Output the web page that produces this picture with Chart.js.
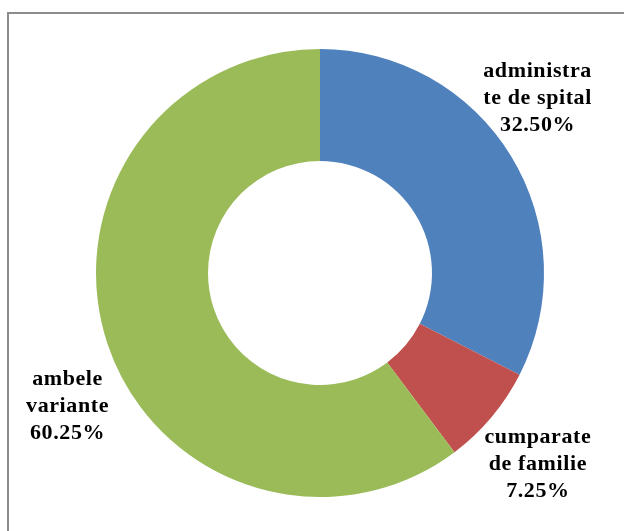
<!DOCTYPE html>
<html>
<head>
<meta charset="utf-8">
<script src="https://cdn.jsdelivr.net/npm/chart.js@4/dist/chart.umd.min.js"></script>
<style>
  html, body { margin: 0; padding: 0; background: #fff; }
  #wrap { position: relative; width: 624px; height: 531px; overflow: hidden; }
  #frame { position: absolute; left: 7px; top: 12px; width: 700px; height: 600px;
           border: 2px solid #8c8c8c; box-sizing: border-box; }
  #box { position: absolute; left: 0; top: 0; width: 624px; height: 531px; }
</style>
</head>
<body>
<div id="wrap">
  <div id="frame"></div>
  <div id="box"><canvas id="chart"></canvas></div>
</div>
<script>
// data
var categories = ['administra|te de spital', 'cumparate|de familie', 'ambele|variante'];
var shares = [32.50, 7.25, 60.25];
var sliceColors = ['#4F81BD', '#C0504D', '#9BBB59'];

// label placement: angle nudge (deg) from slice middle and distance as factor of outer radius
var labelAngleNudge = [-7.5, 1, -9];
var labelDistance = [1.25, 1.29, 1.27];

var outsideLabels = {
    id: 'outsideLabels',
    afterDatasetsDraw: function(chart){
        var ctx = chart.ctx;
        var meta = chart.getDatasetMeta(0);
        ctx.save();
        ctx.fillStyle = '#000';
        ctx.font = 'bold 22px "Liberation Serif", "Times New Roman", serif';
        ctx.letterSpacing = '0.6px';
        ctx.textAlign = 'center';
        ctx.textBaseline = 'middle';
        meta.data.forEach(function(arc, i){
            var p = arc.getProps(['x', 'y', 'startAngle', 'endAngle', 'outerRadius'], true);
            var mid = (p.startAngle + p.endAngle) / 2 + labelAngleNudge[i] * Math.PI / 180;
            var r = p.outerRadius * labelDistance[i];
            var cx = p.x + Math.cos(mid) * r;
            var cy = p.y + Math.sin(mid) * r + 2;
            var lines = categories[i].split('|').concat([shares[i].toFixed(2) + '%']);
            var lh = 27;
            var y0 = cy - (lines.length - 1) * lh / 2;
            lines.forEach(function(t, k){
                ctx.fillText(t, cx, y0 + k * lh);
            });
        });
        ctx.restore();
    }
};

window.onload = function(){
    new Chart(document.getElementById('chart').getContext('2d'), {
        type: 'doughnut',
        data: {
            labels: categories.map(function(c){ return c.replace('|', ''); }),
            datasets: [{
                data: shares,
                backgroundColor: sliceColors,
                borderWidth: 0
            }]
        },
        options: {
            responsive: true,
            maintainAspectRatio: false,
            animation: false,
            cutout: '50%',
            layout: { padding: { left: 96, right: 80, top: 49, bottom: 34 } },
            plugins: {
                legend: { display: false },
                tooltip: { enabled: false }
            }
        },
        plugins: [outsideLabels]
    });
};
</script>
</body>
</html>
